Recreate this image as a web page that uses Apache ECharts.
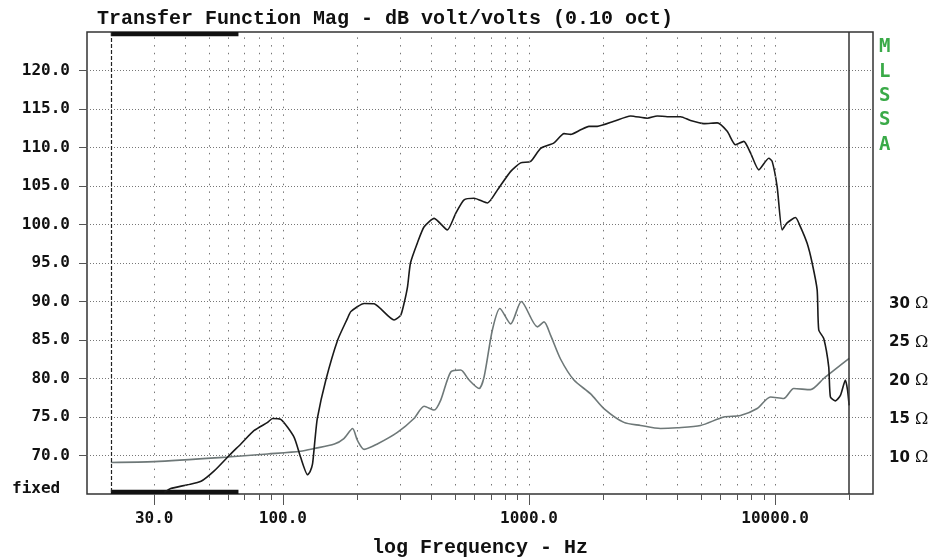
<!DOCTYPE html>
<html>
<head>
<meta charset="utf-8">
<script src="https://cdn.jsdelivr.net/npm/echarts@6/dist/echarts.min.js"></script>
<style>
  html, body { margin: 0; padding: 0; background: #ffffff; }
  #chart { width: 946px; height: 559px; }
</style>
</head>
<body>
<div id="chart"></div>
<script>
// Transfer function magnitude (dB) against frequency (Hz)
const splFreq = [33, 35, 41, 46.5, 52.6, 60.5, 67.5, 76.5, 86.7, 90.8, 98, 111, 118, 126, 129, 132, 135, 138,
  149.5, 167, 183, 189, 214, 235, 283, 301, 311, 321, 330, 352, 375, 412, 466, 504, 545, 598, 678, 745,
  843, 925, 1016, 1116, 1264, 1388, 1477, 1622, 1752, 1895, 2214, 2588, 3025, 3321, 3647, 4129, 4535,
  5134, 5821, 6391, 6907, 7463, 7946, 8587, 9428, 9732, 10198, 10686, 11197, 12100, 12680, 13500,
  14147, 14825, 15049, 15768, 16520, 16785, 17590, 18430, 19310, 19700, 20000];
const splDb = [65.2, 65.7, 66.2, 66.65, 68.0, 70.0, 71.5, 73.25, 74.3, 74.8, 74.7, 72.4, 69.8, 67.5, 67.9, 68.9, 72.0, 74.8,
  79.8, 85.0, 87.8, 88.7, 89.75, 89.7, 87.6, 88.2, 89.8, 91.9, 95.0, 97.6, 99.7, 100.8, 99.3, 101.45, 103.2, 103.4, 102.8, 104.5,
  106.9, 108.0, 108.2, 109.9, 110.6, 111.8, 111.7, 112.3, 112.75, 112.75, 113.4, 114.1, 113.8, 114.1, 114.0, 114.0, 113.5,
  113.1, 113.2, 112.1, 110.35, 110.8, 109.3, 107.1, 108.6, 108.2, 104.9, 99.3, 100.2, 100.9, 99.7, 97.55,
  95.0, 91.5, 86.3, 85.2, 81.5, 77.6, 77.1, 77.8, 79.8, 78.5, 76.5];

// Impedance magnitude (ohms) against frequency (Hz)
const zFreq = [20, 30, 59.6, 86.7, 118, 134, 162, 177, 192, 201, 214, 242, 292, 341, 375, 412, 438, 481, 528,
  571, 627, 657, 710, 762, 843, 931, 1082, 1151, 1225, 1345, 1523, 1781, 2016, 2431, 2841, 3424, 4005,
  4979, 6190, 7236, 8459, 9579, 10847, 11911, 13926, 15768, 20000];
const zOhm = [9.1, 9.2, 9.8, 10.2, 10.55, 10.9, 11.5, 12.2, 13.5, 11.95, 10.8, 11.5, 13.0, 14.8, 16.4, 15.9, 17.2, 20.85, 21.1,
  19.8, 18.7, 20.2, 26.3, 29.1, 27.1, 30.0, 26.7, 27.35, 25.6, 22.5, 19.8, 18.0, 16.1, 14.3, 13.9, 13.5, 13.6,
  13.9, 15.0, 15.2, 16.1, 17.6, 17.4, 18.7, 18.55, 20.0, 22.6];

// Axis ticks and labels
const gridFreqs = [30, 40, 50, 60, 70, 80, 90, 100, 200, 300, 400, 500, 600, 700, 800, 900, 1000,
  2000, 3000, 4000, 5000, 6000, 7000, 8000, 9000, 10000];
const minorTickFreqs = [40, 50, 60, 70, 80, 90, 200, 300, 400, 500, 600, 700, 800, 900,
  2000, 3000, 4000, 5000, 6000, 7000, 8000, 9000, 20000];
const majorTickFreqs = [30, 100, 1000, 10000];
const dbTicks = [70, 75, 80, 85, 90, 95, 100, 105, 110, 115, 120];
const ohmLabels = [10, 15, 20, 25, 30];
const bandLimits = [20, 20000];
const windowBand = [20, 66];

const zip = (xs, ys) => xs.map((x, i) => [x, ys[i]]);

const X_MIN = 16, X_MAX = 25000, Y_MIN = 65, Y_MAX = 125;
const monoBold = { fontFamily: 'DejaVu Sans Mono', fontWeight: 'bold', fontSize: 16, color: '#111' };

const chart = echarts.init(document.getElementById('chart'), null, { renderer: 'canvas' });

const option = {
  animation: false,
  backgroundColor: '#ffffff',
  title: {
    text: 'Transfer Function Mag - dB volt/volts (0.10 oct)',
    left: 92, top: 4,
    textStyle: { fontFamily: 'Liberation Mono', fontWeight: 'bold', fontSize: 20, color: '#111' }
  },
  grid: {
    left: 87, right: 73, top: 32, bottom: 65,
    outerBoundsMode: 'none', containLabel: false,
    show: true, borderColor: '#333', borderWidth: 1.5, backgroundColor: 'transparent'
  },
  xAxis: [
    {
      type: 'log', logBase: 10, min: X_MIN, max: X_MAX, position: 'bottom', offset: 0,
      axisLine: { show: false },
      axisTick: { show: true, customValues: minorTickFreqs, length: 6, lineStyle: { color: '#555', width: 1 } },
      axisLabel: { show: false },
      splitLine: { show: false }, minorSplitLine: { show: false }
    },
    {
      type: 'log', logBase: 10, min: X_MIN, max: X_MAX, position: 'bottom', offset: 0,
      axisLine: { show: false },
      axisTick: { show: true, customValues: majorTickFreqs, length: 11, lineStyle: { color: '#555', width: 1 } },
      axisLabel: Object.assign({ customValues: majorTickFreqs, margin: 17, formatter: v => Number(v).toFixed(1) }, monoBold),
      splitLine: { show: false },
      name: 'log Frequency - Hz', nameLocation: 'middle', nameGap: 44,
      nameTextStyle: { fontFamily: 'Liberation Mono', fontWeight: 'bold', fontSize: 20, color: '#111' }
    }
  ],
  yAxis: [
    {
      type: 'value', min: Y_MIN, max: Y_MAX, interval: 5, position: 'left',
      axisLine: { show: false },
      axisTick: { show: true, customValues: dbTicks, length: 8, lineStyle: { color: '#555', width: 1 } },
      axisLabel: Object.assign({ customValues: dbTicks, margin: 17, padding: [6, 0, 0, 0],
        formatter: v => Number(v).toFixed(1) }, monoBold),
      splitLine: { show: true, lineStyle: { type: [1, 2], color: '#777', width: 1 } }
    },
    {
      type: 'value', min: 5, max: 65, interval: 5, position: 'right',
      axisLine: { show: false }, axisTick: { show: false }, splitLine: { show: false },
      axisLabel: {
        customValues: ohmLabels, margin: 16, padding: [5, 0, 0, 0],
        formatter: v => '{d|' + v + '}{o| Ω}',
        rich: {
          d: { fontFamily: 'DejaVu Sans', fontWeight: 'bold', fontSize: 15, color: '#111' },
          o: { fontFamily: 'DejaVu Serif', fontSize: 16, color: '#111' }
        }
      }
    }
  ],
  graphic: [
    {
      type: 'text', left: 12, top: 481,
      style: { text: 'fixed', fontFamily: 'DejaVu Sans Mono', fontWeight: 'bold', fontSize: 16, fill: '#111' }
    },
    {
      type: 'text', left: 879, top: 35,
      style: {
        text: 'M\nL\nS\nS\nA', fontFamily: 'DejaVu Sans Mono', fontWeight: 'bold', fontSize: 19, lineHeight: 24.4,
        fill: '#3aaa48', align: 'left'
      }
    }
  ],
  series: [
    {
      // grid, band limits and measurement window markers
      type: 'line', xAxisIndex: 0, yAxisIndex: 0, data: [], z: 1, silent: true,
      markLine: {
        silent: true, symbol: ['none', 'none'], label: { show: false }, animation: false,
        data: gridFreqs.map(f => [
          { coord: [f, 124.3], lineStyle: { type: [1.5, 6.2], color: '#777', width: 1 } },
          { coord: [f, 65.7] }
        ]).concat([
          [{ coord: [bandLimits[0], Y_MAX], lineStyle: { type: [4, 2], color: '#222', width: 1.2 } }, { coord: [bandLimits[0], Y_MIN] }],
          [{ coord: [bandLimits[1], Y_MAX], lineStyle: { type: 'solid', color: '#333', width: 1.5 } }, { coord: [bandLimits[1], Y_MIN] }]
        ])
      },
      markArea: {
        silent: true, animation: false,
        itemStyle: { color: '#111' },
        data: [
          [{ coord: [windowBand[0], 124.45] }, { coord: [windowBand[1], Y_MAX] }],
          [{ coord: [windowBand[0], Y_MIN] }, { coord: [windowBand[1], 65.55] }]
        ]
      }
    },
    {
      name: 'Impedance', type: 'line', xAxisIndex: 0, yAxisIndex: 1, z: 3,
      data: zip(zFreq, zOhm), showSymbol: false, symbol: 'none', smooth: 0.25,
      lineStyle: { color: '#6e7878', width: 1.6 }
    },
    {
      name: 'Magnitude', type: 'line', xAxisIndex: 0, yAxisIndex: 0, z: 4,
      data: zip(splFreq, splDb), showSymbol: false, symbol: 'none', smooth: 0.2,
      lineStyle: { color: '#1a1a1a', width: 1.6 }
    }
  ]
};

chart.setOption(option);
</script>
</body>
</html>
